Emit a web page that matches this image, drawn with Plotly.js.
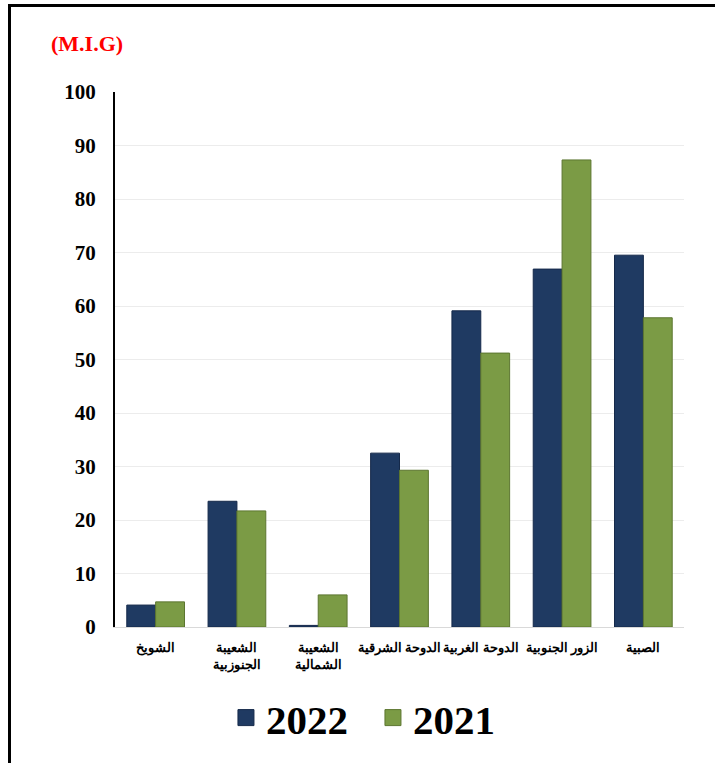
<!DOCTYPE html>
<html>
<head>
<meta charset="utf-8">
<script src="https://cdn.plot.ly/plotly-3.0.1.min.js"></script>
<style>
  html, body { margin: 0; padding: 0; background: #fff; }
  #wrap { position: relative; width: 715px; height: 763px; }
  #chart { position: absolute; left: 0; top: 0; width: 715px; height: 763px; }
  #frame { position: absolute; left: 8px; top: 4px; width: 720px; height: 780px;
           border-left: 3px solid #000; border-top: 3px solid #000; pointer-events: none; }
</style>
</head>
<body>
<div id="wrap">
  <div id="chart"></div>
  <div id="frame"></div>
</div>
<script>
const categories = [
  "الشويخ",
  "الشعيبة<br>الجنوزبية",
  "الشعيبة<br>الشمالية",
  "الدوحة الشرقية",
  "الدوحة الغربية",
  "الزور الجنوبية",
  "الصبية"
];
const values2022 = [4.1, 23.5, 0.3, 32.5, 59.1, 66.9, 69.5];
const values2021 = [4.7, 21.7, 6.0, 29.3, 51.2, 87.3, 57.8];
const seriesNames = ["2022", "2021"];
const yTicks = [0, 10, 20, 30, 40, 50, 60, 70, 80, 90, 100];
const unitLabel = "(M.I.G)";

const c2022 = "#1f3a62";
const c2021 = "#7b9b45";

const traces = [
  { type: "bar", name: seriesNames[0], x: categories, y: values2022,
    marker: { color: c2022, line: { color: "#15294a", width: 1 } }, showlegend: false },
  { type: "bar", name: seriesNames[1], x: categories, y: values2021,
    marker: { color: c2021, line: { color: "#5c7630", width: 1 } }, showlegend: false },
  { type: "scatter", mode: "markers", name: seriesNames[0], x: [null], y: [null],
    marker: { symbol: "square", size: 16, color: c2022, line: { color: "#15294a", width: 1 } } },
  { type: "scatter", mode: "markers", name: seriesNames[1], x: [null], y: [null],
    marker: { symbol: "square", size: 16, color: c2021, line: { color: "#5c7630", width: 1 } } }
];

const layout = {
  width: 715, height: 763,
  margin: { l: 115, r: 31, t: 92, b: 132 },
  paper_bgcolor: "#fff", plot_bgcolor: "#fff",
  barmode: "group",
  bargap: 0.29,
  bargroupgap: 0,
  showlegend: true,
  legend: {
    orientation: "h", x: 0.195, xanchor: "left", y: -0.17, yanchor: "middle",
    font: { family: "Liberation Serif, Times New Roman, serif", size: 41, color: "#000", weight: "bold" },
    itemsizing: "trace", entrywidth: 102
  },
  xaxis: {
    type: "category",
    tickfont: { family: "Liberation Sans, Arial, sans-serif", size: 13, color: "#000", weight: "bold" },
    showline: true, linecolor: "#d9d9d9", linewidth: 1,
    ticks: "", showgrid: false, tickangle: 0,
    ticklabelstandoff: 8
  },
  yaxis: {
    range: [0, 100], tickvals: yTicks, ticktext: yTicks.map(String),
    tickfont: { family: "Liberation Serif, Times New Roman, serif", size: 21, color: "#000", weight: "bold" },
    showline: true, linecolor: "#000", linewidth: 2,
    gridcolor: "#ececec", gridwidth: 1,
    zeroline: false, ticks: "", ticklabelstandoff: 13
  },
  annotations: [
    { text: unitLabel, xref: "paper", yref: "paper", x: -0.05, y: 1.09,
      xanchor: "center", yanchor: "middle", showarrow: false,
      font: { family: "Liberation Serif, Times New Roman, serif", size: 22, color: "#ff0000", weight: "bold" } }
  ]
};

Plotly.newPlot("chart", traces, layout, { displayModeBar: false, staticPlot: true });
</script>
</body>
</html>
